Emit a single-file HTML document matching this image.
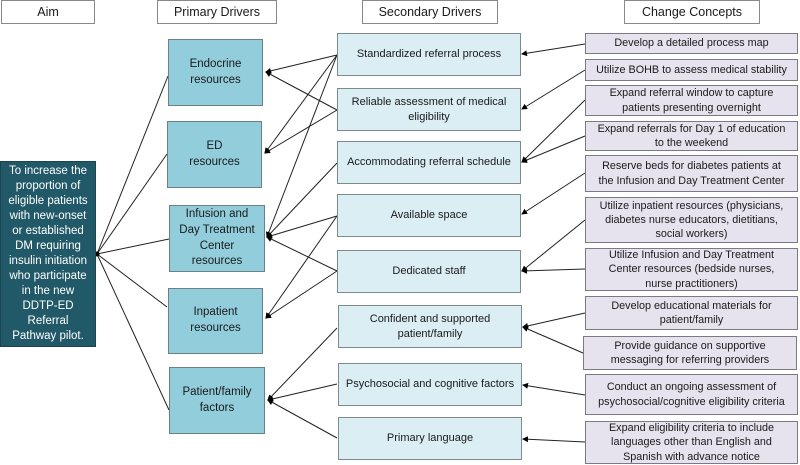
<!DOCTYPE html>
<html><head><meta charset="utf-8"><style>
body{margin:0;width:800px;height:465px;background:#fff;position:relative;overflow:hidden;font-family:"Liberation Sans",sans-serif;color:#1a1a1a}
.b{position:absolute;box-sizing:border-box;display:flex;align-items:center;justify-content:center;text-align:center;line-height:1.3;white-space:nowrap}
.h{border:1px solid #888;background:#fff;font-size:12.5px}
.p{background:#92cddc;border:1px solid #6b7f86;font-size:11.5px;line-height:1.35}
.s{background:#daeef3;border:1px solid #7d8b90;font-size:11px;line-height:1.35}
.c{background:#e7e3ee;border:1px solid #7a7a85;font-size:10.8px;line-height:1.3}
.a{background:#215968;color:#fff;border:1px solid #1a4450;font-size:11.5px;line-height:1.3}
svg{position:absolute;left:0;top:0}
</style></head><body>
<svg width="800" height="465"><defs><marker id="m" markerWidth="6" markerHeight="6" refX="5" refY="3" orient="auto" markerUnits="userSpaceOnUse"><path d="M0,0L6,3L0,6z" fill="#000"/></marker></defs>
<g stroke="#222" stroke-width="1" fill="none">
<line x1="97" y1="254" x2="168" y2="76"/><line x1="97" y1="254" x2="167" y2="154"/><line x1="97" y1="254" x2="169" y2="239"/><line x1="97" y1="254" x2="167" y2="307"/><line x1="97" y1="254" x2="169" y2="410"/>
</g>
<circle cx="97" cy="254" r="2.5" fill="#000"/>
<g stroke="#222" stroke-width="1" fill="none" marker-end="url(#m)">
<line x1="337" y1="55" x2="266" y2="72"/><line x1="337" y1="110" x2="266" y2="72"/>
<line x1="337" y1="55" x2="265" y2="153"/><line x1="337" y1="110" x2="265" y2="153"/>
<line x1="337" y1="55" x2="267" y2="237"/><line x1="337" y1="163" x2="267" y2="237"/><line x1="337" y1="216" x2="267" y2="237"/><line x1="337" y1="271" x2="267" y2="237"/>
<line x1="337" y1="216" x2="266" y2="318"/><line x1="337" y1="271" x2="266" y2="318"/>
<line x1="337" y1="328" x2="268" y2="400"/><line x1="337" y1="384" x2="268" y2="400"/><line x1="337" y1="438" x2="268" y2="400"/>
<line x1="585" y1="44" x2="522" y2="54"/><line x1="585" y1="70" x2="522" y2="109"/>
<line x1="585" y1="100" x2="522" y2="162"/><line x1="585" y1="136" x2="522" y2="162"/>
<line x1="585" y1="173" x2="522" y2="214"/><line x1="585" y1="220" x2="522" y2="271"/><line x1="585" y1="269" x2="522" y2="271"/>
<line x1="585" y1="313" x2="523" y2="327"/><line x1="583" y1="353" x2="523" y2="327"/>
<line x1="585" y1="395" x2="523" y2="385"/><line x1="585" y1="442" x2="523" y2="439"/>
</g></svg>
<div class="b h" style="left:1px;top:0;width:94px;height:24px">Aim</div>
<div class="b h" style="left:157px;top:0;width:120px;height:24px">Primary Drivers</div>
<div class="b h" style="left:362px;top:0;width:136px;height:24px">Secondary Drivers</div>
<div class="b h" style="left:624px;top:0;width:136px;height:24px">Change Concepts</div>
<div class="b a" style="left:0;top:161px;width:96px;height:186px">To increase the<br>proportion of<br>eligible patients<br>with new-onset<br>or established<br>DM requiring<br>insulin initiation<br>who participate<br>in the new<br>DDTP-ED<br>Referral<br>Pathway pilot.</div>
<div class="b p" style="left:168px;top:39px;width:95px;height:67px">Endocrine<br>resources</div>
<div class="b p" style="left:167px;top:121px;width:95px;height:67px">ED<br>resources</div>
<div class="b p" style="left:169px;top:205px;width:96px;height:67px">Infusion and<br>Day Treatment<br>Center<br>resources</div>
<div class="b p" style="left:168px;top:288px;width:95px;height:66px">Inpatient<br>resources</div>
<div class="b p" style="left:169px;top:367px;width:96px;height:67px">Patient/family<br>factors</div>
<div class="b s" style="left:337px;top:33px;width:184px;height:43px">Standardized referral process</div>
<div class="b s" style="left:337px;top:88px;width:184px;height:43px">Reliable assessment of medical<br>eligibility</div>
<div class="b s" style="left:337px;top:141px;width:184px;height:43px">Accommodating referral schedule</div>
<div class="b s" style="left:337px;top:194px;width:184px;height:43px">Available space</div>
<div class="b s" style="left:337px;top:250px;width:184px;height:43px">Dedicated staff</div>
<div class="b s" style="left:338px;top:305px;width:184px;height:43px">Confident and supported<br>patient/family</div>
<div class="b s" style="left:338px;top:363px;width:184px;height:43px">Psychosocial and cognitive factors</div>
<div class="b s" style="left:338px;top:417px;width:184px;height:43px">Primary language</div>
<div class="b c" style="left:585px;top:33px;width:213px;height:21px">Develop a detailed process map</div>
<div class="b c" style="left:585px;top:59px;width:213px;height:22px">Utilize BOHB to assess medical stability</div>
<div class="b c" style="left:585px;top:85px;width:213px;height:31px">Expand referral window to capture<br>patients presenting overnight</div>
<div class="b c" style="left:585px;top:121px;width:213px;height:30px">Expand referrals for Day 1 of education<br>to the weekend</div>
<div class="b c" style="left:585px;top:155px;width:213px;height:37px">Reserve beds for diabetes patients at<br>the Infusion and Day Treatment Center</div>
<div class="b c" style="left:585px;top:197px;width:213px;height:46px">Utilize inpatient resources (physicians,<br>diabetes nurse educators, dietitians,<br>social workers)</div>
<div class="b c" style="left:585px;top:248px;width:213px;height:43px">Utilize Infusion and Day Treatment<br>Center resources (bedside nurses,<br>nurse practitioners)</div>
<div class="b c" style="left:585px;top:296px;width:213px;height:34px">Develop educational materials for<br>patient/family</div>
<div class="b c" style="left:583px;top:336px;width:214px;height:34px">Provide guidance on supportive<br>messaging for referring providers</div>
<div class="b c" style="left:585px;top:374px;width:213px;height:41px">Conduct an ongoing assessment of<br>psychosocial/cognitive eligibility criteria</div>
<div class="b c" style="left:585px;top:421px;width:213px;height:43px">Expand eligibility criteria to include<br>languages other than English and<br>Spanish with advance notice</div>
</body></html>
